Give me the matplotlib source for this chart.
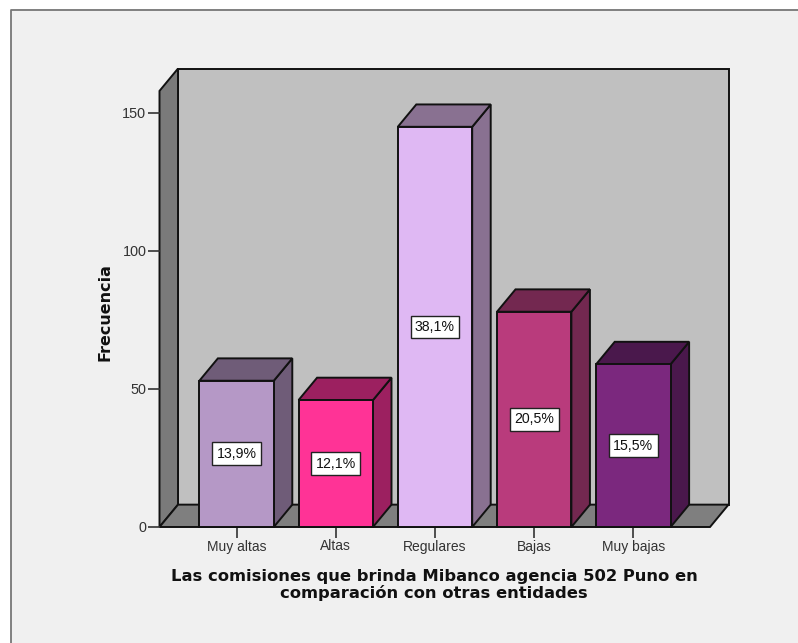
import matplotlib; matplotlib.use("Agg"); import matplotlib.pyplot as plt
from matplotlib.patches import Polygon, Rectangle

W, H = 798, 643
categories = ["Muy altas", "Altas", "Regulares", "Bajas", "Muy bajas"]
counts = [53, 46, 145, 78, 59]
pct_labels = ["13,9%", "12,1%", "38,1%", "20,5%", "15,5%"]
front_cols = ["#b598c6", "#ff3396", "#dfb8f3", "#b93b7c", "#7b287e"]
side_cols = ["#6f5c78", "#9c2060", "#897191", "#732850", "#4a184c"]
yticks = [0, 50, 100, 150]
YMAX = 166.1          # top of the back wall, in counts

plt.rcParams["font.family"] = ["Liberation Sans", "DejaVu Sans"]
EDGE = "#111111"

fig = plt.figure(figsize=(W/100, H/100), dpi=100, facecolor="#f0f0f0")
# outer strip and frame: only left and top show
fig.add_artist(Rectangle((0, 0), 11/W, 1, transform=fig.transFigure, fc="white", ec="none"))
fig.add_artist(Rectangle((0, 1-9/H), 1, 9/H, transform=fig.transFigure, fc="white", ec="none"))
fig.add_artist(plt.Line2D([11/W, 11/W, 1], [0, 1-9.5/H, 1-9.5/H], color="#777777", lw=1.3))

# axes span the front floor edge, 0 tick .. 150 tick
ax = fig.add_axes([159.5/W, 1-527/H, (710-159.5)/W, (527-113)/H])
ax.set_xlim(-0.777, 4.772); ax.set_ylim(0, 150)
ax.patch.set_visible(False)
for s in ax.spines.values(): s.set_visible(False)

DX, DY = 0.1865, 8.1   # depth offset of the 3D box
BW = 0.75
x0, x1 = ax.get_xlim()

def poly(pts, fc, z, lw=1.4):
    ax.add_patch(Polygon(pts, closed=True, fc=fc, ec=EDGE, lw=lw, zorder=z, clip_on=False, joinstyle="miter"))

poly([(x0+DX, DY), (x1+DX, DY), (x1+DX, YMAX), (x0+DX, YMAX)], "#c0c0c0", 1)          # back wall
poly([(x0, 0), (x0+DX, DY), (x0+DX, YMAX), (x0, YMAX-DY)], "#7a7a7a", 1)               # left wall
poly([(x0, 0), (x1, 0), (x1+DX, DY), (x0+DX, DY)], "#7f7f7f", 1)                       # floor

for i, (cat, v) in enumerate(zip(categories, counts)):
    l, r = i-BW/2, i+BW/2
    poly([(r, 0), (r+DX, DY), (r+DX, v+DY), (r, v)], side_cols[i], 3)
    poly([(l, v), (r, v), (r+DX, v+DY), (l+DX, v+DY)], side_cols[i], 3)
    poly([(l, 0), (r, 0), (r, v), (l, v)], front_cols[i], 4)
    ax.text(i, v/2, pct_labels[i], ha="center", va="center", fontsize=10.2, color="#111111", zorder=6,
            bbox=dict(boxstyle="square,pad=0.31", fc="white", ec="#222222", lw=1))

ax.set_xticks(range(len(categories))); ax.set_xticklabels(categories)
ax.set_yticks(yticks)
ax.tick_params(axis="x", length=8, width=1.2, color="#333333", labelsize=10, labelcolor="#333333", pad=1)
ax.tick_params(axis="y", length=9, width=1.2, color="#333333", labelsize=10.4, labelcolor="#333333", pad=0.5)

ax.set_ylabel("Frecuencia", fontsize=11.5, fontweight="bold", family="DejaVu Sans", color="#111111")
ax.yaxis.set_label_coords(-47/550.5, (527-312)/414)
fig.text(434/W, 1-585/H, "Las comisiones que brinda Mibanco agencia 502 Puno en\ncomparación con otras entidades",
         ha="center", va="center", fontsize=11.8, fontweight="bold", family="DejaVu Sans", color="#111111", linespacing=1.15)

fig.savefig("out.png", dpi=100, facecolor=fig.get_facecolor())
